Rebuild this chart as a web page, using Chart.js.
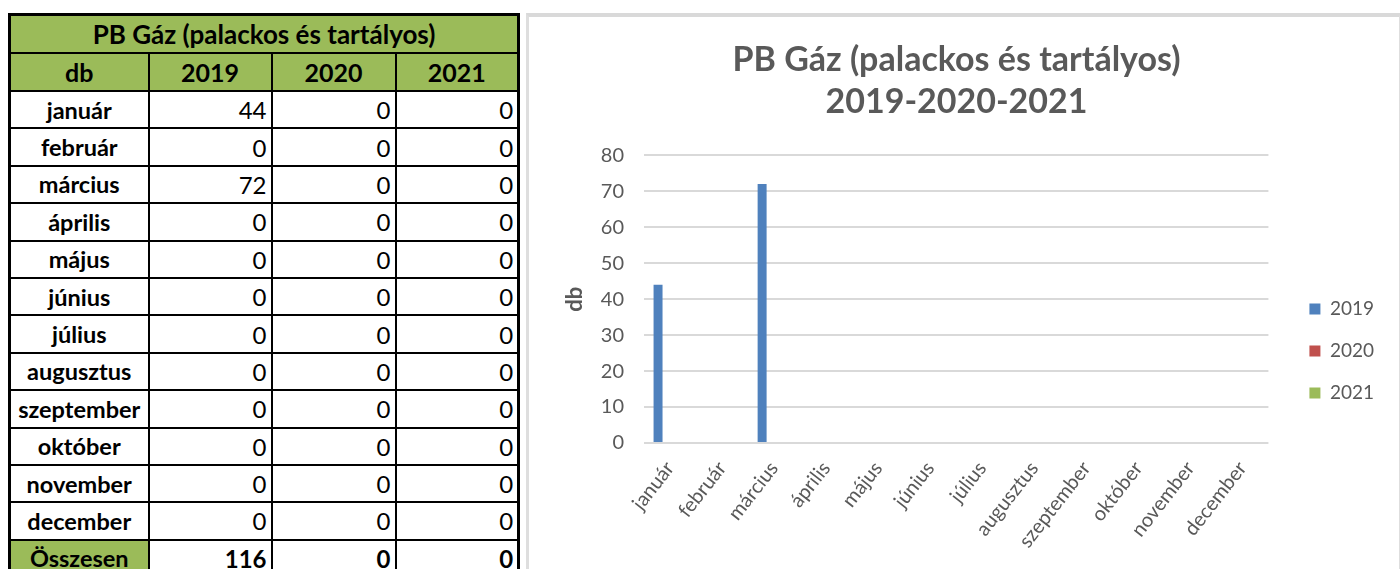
<!DOCTYPE html>
<html>
<head>
<meta charset="utf-8">
<script src="https://cdn.jsdelivr.net/npm/chart.js@4"></script>
<style>
  body { margin: 0; background: #fff; font-family: Lato, sans-serif; width: 1400px; height: 569px; overflow: hidden; position: relative; }
  #tbl { position: absolute; left: 8px; top: 13px; width: 509px; border-collapse: collapse; table-layout: fixed; border: 3px solid #000; color: #000; }
  #tbl td { border: 2px solid #000; padding: 0 4px; height: 35.4px; font-size: 24px; white-space: nowrap; overflow: hidden; }
  #tbl td.lab { font-weight: bold; text-align: center; font-size: 23.5px; padding: 0 2px; }
  #tbl td.num { text-align: right; }
  #tbl .green { background: #9bbb59; }
  #tbl tr.head td { font-weight: bold; text-align: center; height: 36px; font-size: 25px; }
  #tbl tr.head td.ttl { font-size: 26px; }
  #tbl tr.sum td { font-weight: bold; }
  #frame { position: absolute; left: 526px; top: 13px; width: 870px; height: 560px; border-top: 4px solid #d9d9d9; border-left: 3px solid #dedede; border-right: 2px solid #dedede; }
  #wrap { position: absolute; left: 529px; top: 17px; width: 869px; height: 552px; }
</style>
</head>
<body>
<table id="tbl">
  <colgroup><col style="width:139px"><col style="width:123px"><col style="width:124px"><col style="width:123px"></colgroup>
  <tbody id="tbody"></tbody>
</table>
<div id="frame"></div>
<div id="wrap"><canvas id="myChart"></canvas></div>
<script>
const tableTitle = 'PB Gáz (palackos és tartályos)'
const chartTitle = ['PB Gáz (palackos és tartályos)', '2019-2020-2021']
const unitLabel = 'db'
const totalLabel = 'Összesen'
const months = ['január', 'február', 'március', 'április', 'május', 'június', 'július', 'augusztus', 'szeptember', 'október', 'november', 'december']
const years = ['2019', '2020', '2021']
const v2019 = [44, 0, 72, 0, 0, 0, 0, 0, 0, 0, 0, 0]
const v2020 = [0, 0, 0, 0, 0, 0, 0, 0, 0, 0, 0, 0]
const v2021 = [0, 0, 0, 0, 0, 0, 0, 0, 0, 0, 0, 0]
const yMin = 0
const yMax = 80
const yStep = 10
const colors = ['#4f81bd', '#c0504d', '#9bbb59']

const series = [v2019, v2020, v2021]

// table on the left
const tbody = document.getElementById('tbody')
let html = '<tr class="head"><td class="green ttl" colspan="4">' + tableTitle + '</td></tr>'
html += '<tr class="head"><td class="green">' + unitLabel + '</td>' + years.map(y => '<td class="green">' + y + '</td>').join('') + '</tr>'
months.forEach((m, i) => {
  html += '<tr><td class="lab">' + m + '</td>' + series.map(s => '<td class="num">' + s[i] + '</td>').join('') + '</tr>'
})
html += '<tr class="sum"><td class="lab green">' + totalLabel + '</td>' + series.map(s => '<td class="num">' + s.reduce((a, b) => a + b, 0) + '</td>').join('') + '</tr>'
tbody.innerHTML = html

Chart.defaults.font.family = 'Lato'
Chart.defaults.color = '#595959'

const ctx = document.getElementById('myChart').getContext('2d')
const myChart = new Chart(ctx, {
  type: 'bar',
  data: {
    labels: months,
    datasets: years.map((y, i) => ({
      label: y,
      data: series[i],
      backgroundColor: colors[i],
      categoryPercentage: 0.69,
      barPercentage: 0.75
    }))
  },
  options: {
    responsive: true,
    maintainAspectRatio: false,
    animation: false,
    layout: { padding: { right: 14 } },
    scales: {
      x: {
        grid: { display: false },
        border: { display: false },
        ticks: {
          minRotation: 52,
          maxRotation: 52,
          padding: 6,
          color: '#595959',
          font: { size: 20 }
        },
        afterFit: s => { s.height = 126 }
      },
      y: {
        min: yMin,
        max: yMax,
        grid: { color: '#d9d9d9', lineWidth: 2, drawTicks: false },
        border: { display: false },
        ticks: { stepSize: yStep, padding: 20, color: '#595959', font: { size: 20 } },
        title: { display: true, text: unitLabel, color: '#595959', font: { size: 22, weight: 'bold' }, padding: { top: 33, bottom: 0 } },
        afterFit: s => { s.width = 115 }
      },
      y2: {
        position: 'right',
        display: true,
        grid: { display: false },
        border: { display: false },
        ticks: { display: false },
        afterFit: s => { s.width = 18 }
      }
    },
    plugins: {
      title: {
        display: true,
        text: chartTitle,
        color: '#595959',
        font: { size: 34, weight: 'bold', lineHeight: 1.24 },
        padding: { top: 22, bottom: 32 }
      },
      legend: {
        position: 'right',
        align: 'start',
        title: { display: true, text: '', padding: { top: 245, bottom: 0 } },
        labels: {
          boxWidth: 11,
          boxHeight: 11,
          padding: 23,
          color: '#595959',
          font: { size: 19 }
        }
      },
      tooltip: { enabled: false }
    }
  }
})
</script>
</body>
</html>
